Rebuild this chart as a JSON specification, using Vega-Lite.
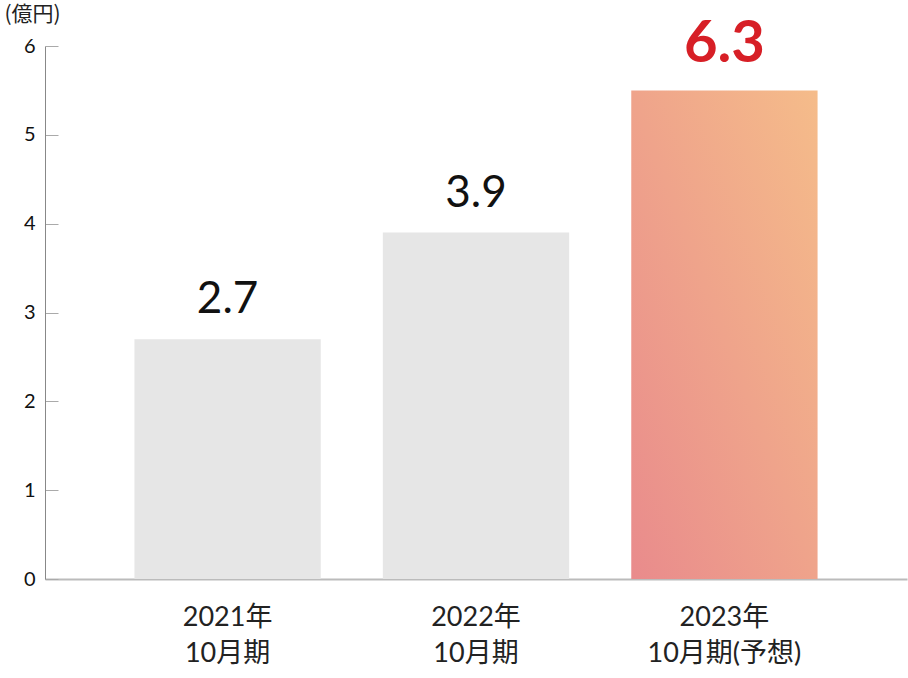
{
  "$schema": "https://vega.github.io/schema/vega-lite/v6.json",
  "width": 862,
  "height": 533,
  "autosize": {"type": "none"},
  "padding": {"left": 45, "top": 46, "right": 1, "bottom": 99},
  "background": "white",
  "config": {
    "view": {"stroke": null},
    "font": "Lato, 'Noto Sans CJK JP', sans-serif"
  },
  "data": {
    "values": [
      {"period": "2021年|10月期", "value": 2.7, "label": "2.7", "forecast": false},
      {"period": "2022年|10月期", "value": 3.9, "label": "3.9", "forecast": false},
      {"period": "2023年|10月期(予想)", "value": 5.5, "label": "6.3", "forecast": true}
    ]
  },
  "encoding": {
    "x": {
      "field": "period",
      "type": "nominal",
      "sort": null,
      "scale": {"paddingInner": 0.25, "paddingOuter": 0.36},
      "axis": {
        "title": null,
        "labelAngle": 0,
        "labelExpr": "split(datum.label, '|')",
        "labelFontSize": 27,
        "labelLineHeight": 36,
        "labelColor": "#222222",
        "labelFont": "Lato, 'Noto Sans CJK JP', sans-serif",
        "labelPadding": 25,
        "labelBaseline": "top",
        "ticks": false,
        "domainColor": "#bbbbbb",
        "domainWidth": 2
      }
    },
    "y": {
      "field": "value",
      "type": "quantitative",
      "scale": {"domain": [0, 6], "nice": false, "zero": true},
      "axis": {
        "values": [0, 1, 2, 3, 4, 5, 6],
        "grid": false,
        "tickSize": -13,
        "tickColor": "#aaaaaa",
        "tickWidth": 1,
        "domainColor": "#888888",
        "domainWidth": 1,
        "labelPadding": 23,
        "labelFontSize": 20,
        "labelColor": "#111111",
        "title": "(億円)",
        "titleAngle": 0,
        "titleAlign": "left",
        "titleBaseline": "middle",
        "titleX": -41,
        "titleY": -32,
        "titleFontSize": 21,
        "titleFontWeight": "normal",
        "titleColor": "#222222",
        "titleFont": "'Noto Sans CJK JP', sans-serif"
      }
    }
  },
  "layer": [
    {
      "transform": [{"filter": "!datum.forecast"}],
      "mark": {"type": "bar", "color": "#e6e6e6"}
    },
    {
      "transform": [{"filter": "datum.forecast"}],
      "mark": {
        "type": "bar",
        "color": {
          "gradient": "linear",
          "x1": 1, "y1": 0, "x2": 0, "y2": 1,
          "stops": [
            {"offset": 0, "color": "#f5bc8a"},
            {"offset": 1, "color": "#e98b8c"}
          ]
        }
      }
    },
    {
      "transform": [{"filter": "!datum.forecast"}],
      "mark": {"type": "text", "baseline": "alphabetic", "dy": -26, "fontSize": 44, "color": "#111111"},
      "encoding": {"text": {"field": "label"}}
    },
    {
      "transform": [{"filter": "datum.forecast"}],
      "mark": {"type": "text", "baseline": "alphabetic", "dy": -28, "fontSize": 58, "fontWeight": "bold", "color": "#d71f26"},
      "encoding": {"text": {"field": "label"}}
    }
  ]
}
